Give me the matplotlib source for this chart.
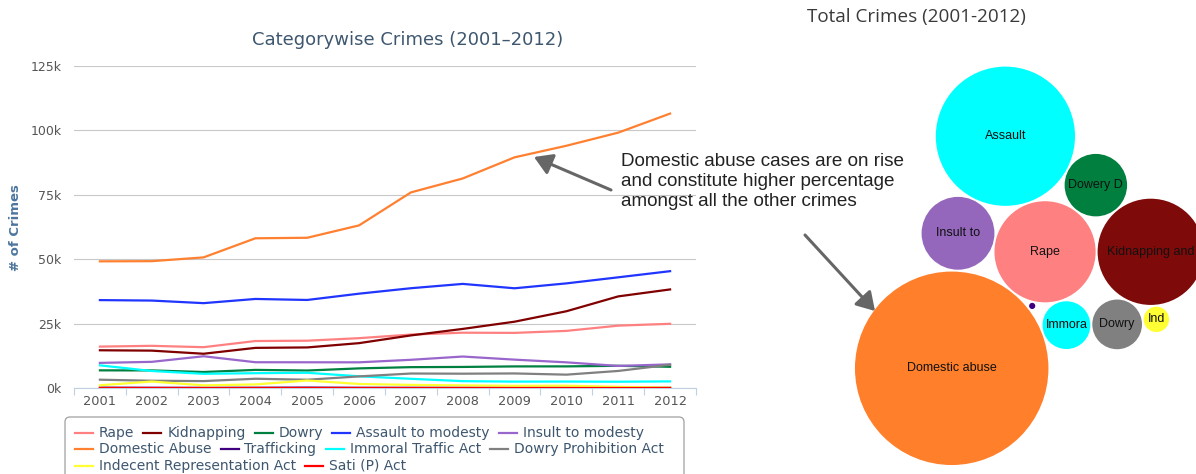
import numpy as np
import matplotlib.pyplot as plt
from matplotlib.patches import Circle, FancyBboxPatch, FancyArrowPatch
from matplotlib.ticker import FuncFormatter

W, H = 1196, 474

# crimes against women, yearly counts
years = ['2001', '2002', '2003', '2004', '2005', '2006',
         '2007', '2008', '2009', '2010', '2011', '2012']
rape = [16075, 16373, 15847, 18233, 18359, 19348, 20737, 21467, 21397, 22172, 24206, 24923]
kidnapping = [14645, 14506, 13296, 15578, 15750, 17414, 20416, 22939, 25741, 29795, 35565, 38262]
dowry = [6851, 6822, 6208, 7026, 6787, 7618, 8093, 8172, 8383, 8391, 8618, 8233]
assault = [34124, 33943, 32939, 34567, 34175, 36617, 38734, 40413, 38711, 40613, 42968, 45351]
insult = [9746, 10155, 12325, 10001, 9984, 9966, 10950, 12214, 11009, 9961, 8570, 9173]
domestic = [49170, 49237, 50703, 58121, 58319, 63128, 75930, 81344, 89546, 94041, 99135, 106527]
trafficking = [114, 76, 46, 89, 149, 67, 61, 67, 48, 36, 80, 59]
immoral = [8796, 6598, 5510, 5748, 5908, 4541, 3568, 2659, 2474, 2499, 2435, 2563]
dowry_prohib = [3222, 2816, 2684, 3592, 3204, 4504, 5623, 5555, 5650, 5182, 6619, 9038]
indecent = [1052, 2508, 1043, 1378, 2917, 1562, 1200, 1025, 845, 895, 453, 141]
sati = [0, 0, 0, 0, 1, 0, 0, 1, 0, 0, 1, 0]

series_names = ['Rape', 'Kidnapping', 'Dowry', 'Assault to modesty', 'Insult to modesty',
                'Domestic Abuse', 'Trafficking', 'Immoral Traffic Act', 'Dowry Prohibition Act',
                'Indecent Representation Act', 'Sati (P) Act']
series_values = [rape, kidnapping, dowry, assault, insult, domestic,
                 trafficking, immoral, dowry_prohib, indecent, sati]
line_colors = ['#FF8080', '#800000', '#008040', '#2035FF', '#9966CC', '#FF8030',
               '#3F007F', '#00FFFF', '#808080', '#FFFF33', '#FF0000']

# bubble labels (as cut short by the bubble chart) and their colours
bubble_labels = {'domestic': 'Domestic abuse', 'rape': 'Rape', 'insult': 'Insult to',
                 'assault': 'Assault', 'dowry': 'Dowery D', 'kidnapping': 'Kidnapping and',
                 'immoral': 'Immora', 'dowry_prohib': 'Dowry', 'indecent': 'Ind',
                 'trafficking': ''}
bubble_colors = {'domestic': '#FF7F2A', 'rape': '#FF8080', 'insult': '#9467BD',
                 'assault': '#00FFFF', 'dowry': '#007F3F', 'kidnapping': '#7F0A0A',
                 'immoral': '#00FFFF', 'dowry_prohib': '#808080', 'indecent': '#FFFF33',
                 'trafficking': '#3F007F'}
totals = {'domestic': sum(domestic), 'rape': sum(rape), 'insult': sum(insult),
          'assault': sum(assault), 'dowry': sum(dowry), 'kidnapping': sum(kidnapping),
          'immoral': sum(immoral), 'dowry_prohib': sum(dowry_prohib),
          'indecent': sum(indecent), 'trafficking': sum(trafficking)}

fig = plt.figure(figsize=(W / 100, H / 100), dpi=100)

# ---- line chart ----
ax = fig.add_axes([74 / W, 1 - 388 / H, 622 / W, 322 / H])
x = np.arange(len(years))
for vals, color in zip(series_values, line_colors):
    ax.plot(x, vals, color=color, lw=1.6, solid_joinstyle='round', zorder=3)
ax.set_xlim(-0.5, len(years) - 0.5)
ax.set_ylim(0, 125000)
ax.set_yticks(np.arange(0, 125001, 25000))
ax.yaxis.set_major_formatter(FuncFormatter(lambda v, p: f'{v / 1000:.0f}k'))
ax.set_xticks(x)
ax.set_xticklabels(years)
ax.set_xticks(np.arange(-0.5, len(years)), minor=True)
ax.tick_params(axis='x', which='major', length=0, pad=5, labelsize=9.3, labelcolor='#555555')
ax.tick_params(axis='x', which='minor', length=5, color='#C0D0E0', width=0.8)
ax.tick_params(axis='y', length=0, pad=9, labelsize=9, labelcolor='#555555')
ax.grid(axis='y', color='#C8C8C8', lw=0.8)
ax.set_axisbelow(True)
for s in ['top', 'right', 'left']:
    ax.spines[s].set_visible(False)
ax.spines['bottom'].set_color('#C0D0E0')

fig.text(408 / W, 1 - 40 / H, 'Categorywise Crimes (2001–2012)', ha='center', va='center',
         fontsize=13, color='#3E576F')
fig.text(16 / W, 1 - 228 / H, '# of Crimes', rotation=90, ha='center', va='center',
         fontsize=9.5, fontweight='bold', color='#4D759E')

# ---- bubble chart (pixel units) ----
bx = fig.add_axes([720 / W, 0, (W - 720) / W, 1])
bx.set_xlim(720, W)
bx.set_ylim(H, 0)
bx.axis('off')

PAD = 2.0
SCALE = 0.1034


def radius(key):
    return SCALE * np.sqrt(totals[key])


def touching(c1, c2, r, side):
    # circle of radius r resting against c1 and c2
    (x1, y1, r1), (x2, y2, r2) = c1, c2
    d1, d2 = r1 + r + PAD, r2 + r + PAD
    dx, dy = x2 - x1, y2 - y1
    d = np.hypot(dx, dy)
    a = (d1 ** 2 - d2 ** 2 + d ** 2) / (2 * d)
    h = np.sqrt(max(d1 ** 2 - a ** 2, 0))
    ux, uy = dx / d, dy / d
    return (x1 + a * ux - side * h * uy, y1 + a * uy + side * h * ux, r)


pack = {}
pack['domestic'] = (951.7, 368.3, radius('domestic'))
ang = np.deg2rad(-51.3)
dist = pack['domestic'][2] + radius('rape') + PAD
pack['rape'] = (951.7 + dist * np.cos(ang), 368.3 + dist * np.sin(ang), radius('rape'))
pack['insult'] = touching(pack['domestic'], pack['rape'], radius('insult'), -1)
pack['assault'] = touching(pack['insult'], pack['rape'], radius('assault'), -1)
pack['dowry'] = touching(pack['assault'], pack['rape'], radius('dowry'), -1)
pack['kidnapping'] = touching(pack['dowry'], pack['rape'], radius('kidnapping'), -1)
pack['immoral'] = touching(pack['rape'], pack['domestic'], radius('immoral'), -1)
pack['trafficking'] = touching(pack['rape'], pack['domestic'], radius('trafficking'), -1)
pack['dowry_prohib'] = touching(pack['immoral'], pack['kidnapping'], radius('dowry_prohib'), 1)
pack['indecent'] = touching(pack['dowry_prohib'], pack['kidnapping'], radius('indecent'), 1)

for key, (cx, cy, r) in pack.items():
    bx.add_patch(Circle((cx, cy), r, fc=bubble_colors[key], ec='none'))
    if bubble_labels[key]:
        bx.text(cx, cy, bubble_labels[key], ha='center', va='center', fontsize=9,
                family='Liberation Sans', color='#111111')

fig.text(916 / W, 1 - 17 / H, 'Total Crimes (2001-2012)', ha='center', va='center',
         fontsize=13.6, family='Open Sans', color='#3A3A3A')

# ---- overlay: legend, note and arrows ----
ov = fig.add_axes([0, 0, 1, 1])
ov.set_xlim(0, W)
ov.set_ylim(H, 0)
ov.axis('off')

ov.add_patch(FancyBboxPatch((65, 417), 619, 80, boxstyle='round,pad=0,rounding_size=5',
                            fc='white', ec='#A0A0A0', lw=0.9))
renderer = fig.canvas.get_renderer()
lx, ly = 75, 433
for name, color in zip(series_names, line_colors):
    t = ov.text(0, 0, name, fontsize=10, va='center', ha='left', color='#3E576F')
    w = t.get_window_extent(renderer).width
    if lx + 25 + w > 682 and lx > 75:
        lx, ly = 75, ly + 16.3
    ov.plot([lx, lx + 18], [ly, ly], color=color, lw=1.6)
    t.set_position((lx + 24, ly))
    lx += 24 + w + 9

ov.text(621, 181.5, 'Domestic abuse cases are on rise\nand constitute higher percentage\n'
        'amongst all the other crimes', ha='left', va='center', fontsize=13.6,
        family='Liberation Sans', color='#222222', linespacing=1.2)

for (x0, y0), (x1, y1) in [((611, 190), (534, 157)), ((805, 235), (875, 311))]:
    ov.add_patch(FancyArrowPatch((x0, y0), (x1, y1), arrowstyle='-|>,head_length=0.9,head_width=0.55',
                                 mutation_scale=12, color='#666666', lw=2.2,
                                 shrinkA=0, shrinkB=0))

fig.savefig('out.png', dpi=100)
